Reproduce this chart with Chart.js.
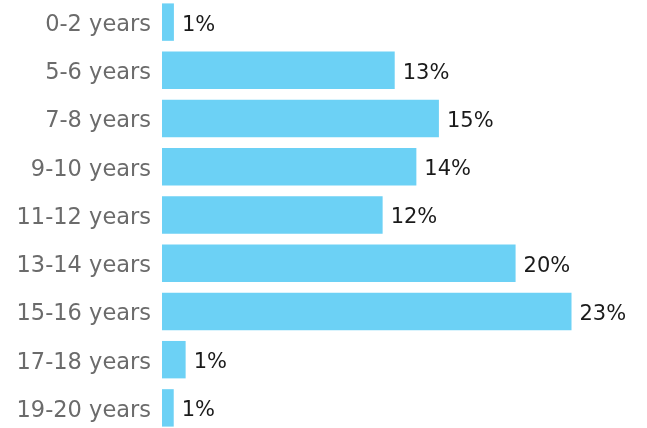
<!DOCTYPE html>
<html>
<head>
<meta charset="utf-8">
<script src="https://cdn.jsdelivr.net/npm/chart.js@4"></script>
<style>
  html, body { margin: 0; padding: 0; background: #ffffff; overflow: hidden; }
  body { width: 647px; height: 428px; position: relative; }
  #wrap { position: absolute; left: 0; top: -2px; width: 647px; height: 434px; }
</style>
</head>
<body>
<div id="wrap"><canvas id="c"></canvas></div>
<script>
const categories = ["0-2 years", "5-6 years", "7-8 years", "9-10 years", "11-12 years", "13-14 years", "15-16 years", "17-18 years", "19-20 years"];
const shares = [0.66, 12.9, 15.35, 14.1, 12.23, 19.6, 22.7, 1.31, 0.65];
const valueLabels = ["1%", "13%", "15%", "14%", "12%", "20%", "23%", "1%", "1%"];

const valueLabelPlugin = {
  id: 'valueLabels',
  afterDatasetsDraw(chart) {
    const ctx = chart.ctx;
    const meta = chart.getDatasetMeta(0);
    ctx.save();
    ctx.font = '21px "DejaVu Sans"';
    ctx.fillStyle = '#1a1a1a';
    ctx.textAlign = 'left';
    ctx.textBaseline = 'middle';
    meta.data.forEach((bar, i) => {
      ctx.fillText(valueLabels[i], bar.x + 8, bar.y + 3);
    });
    ctx.restore();
  }
};

new Chart(document.getElementById('c'), {
  type: 'bar',
  data: {
    labels: categories,
    datasets: [{
      data: shares,
      backgroundColor: '#6CD1F5',
      borderWidth: 0,
      barPercentage: 0.776,
      categoryPercentage: 1.0
    }]
  },
  options: {
    indexAxis: 'y',
    responsive: true,
    maintainAspectRatio: false,
    animation: false,
    layout: { padding: { left: 0, right: 34, top: 0, bottom: 0 } },
    plugins: { legend: { display: false }, tooltip: { enabled: false } },
    scales: {
      x: {
        display: false,
        min: 0,
        max: 25
      },
      y: {
        grid: { display: false, drawTicks: false },
        border: { display: false },
        afterFit(scale) {
          scale.width = 162;
          scale.paddingTop = 0;
          scale.paddingBottom = 0;
        },
        ticks: {
          padding: 11,
          labelOffset: 3,
          color: '#6b6b6b',
          font: { family: '"DejaVu Sans"', size: 22.5 }
        }
      }
    }
  },
  plugins: [valueLabelPlugin]
});
</script>
</body>
</html>
